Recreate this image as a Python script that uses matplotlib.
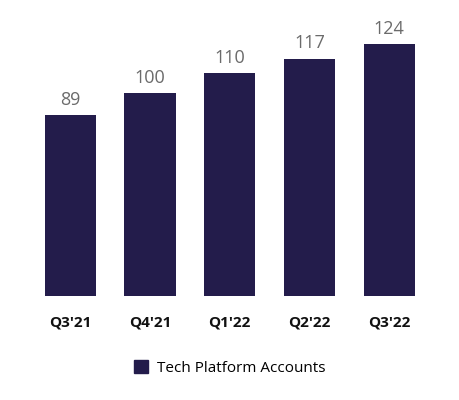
import matplotlib.pyplot as plt
from matplotlib.patches import Patch

quarters = ["Q3'21", "Q4'21", "Q1'22", "Q2'22", "Q3'22"]
accounts = [89, 100, 110, 117, 124]
bar_color = "#231c4b"

plt.rcParams['font.family'] = ['Open Sans', 'DejaVu Sans']

fig = plt.figure(figsize=(4.6, 4.0), dpi=100)
ax = fig.add_axes([0.066, 0.26, 0.867, 0.69])

x = range(len(quarters))
ax.bar(x, accounts, width=0.64, color=bar_color)
for i, v in zip(x, accounts):
    ax.text(i, v + 3, str(v), ha='center', va='bottom', fontsize=13, color='#6b6b6b')

ax.set_xlim(-0.5, 4.5)
ax.set_ylim(0, 136)
ax.set_xticks(list(x))
ax.set_xticklabels(quarters, fontsize=11, fontweight='bold', color='#111111')
ax.tick_params(axis='x', length=0, pad=14)
ax.set_yticks([])
for s in ax.spines.values():
    s.set_visible(False)

fig.legend(handles=[Patch(color=bar_color, label='Tech Platform Accounts')],
           loc='center', bbox_to_anchor=(0.5, 0.08), frameon=False,
           fontsize=11, handlelength=0.9, handleheight=0.9, handletextpad=0.6)

fig.savefig('out.png', dpi=100)
